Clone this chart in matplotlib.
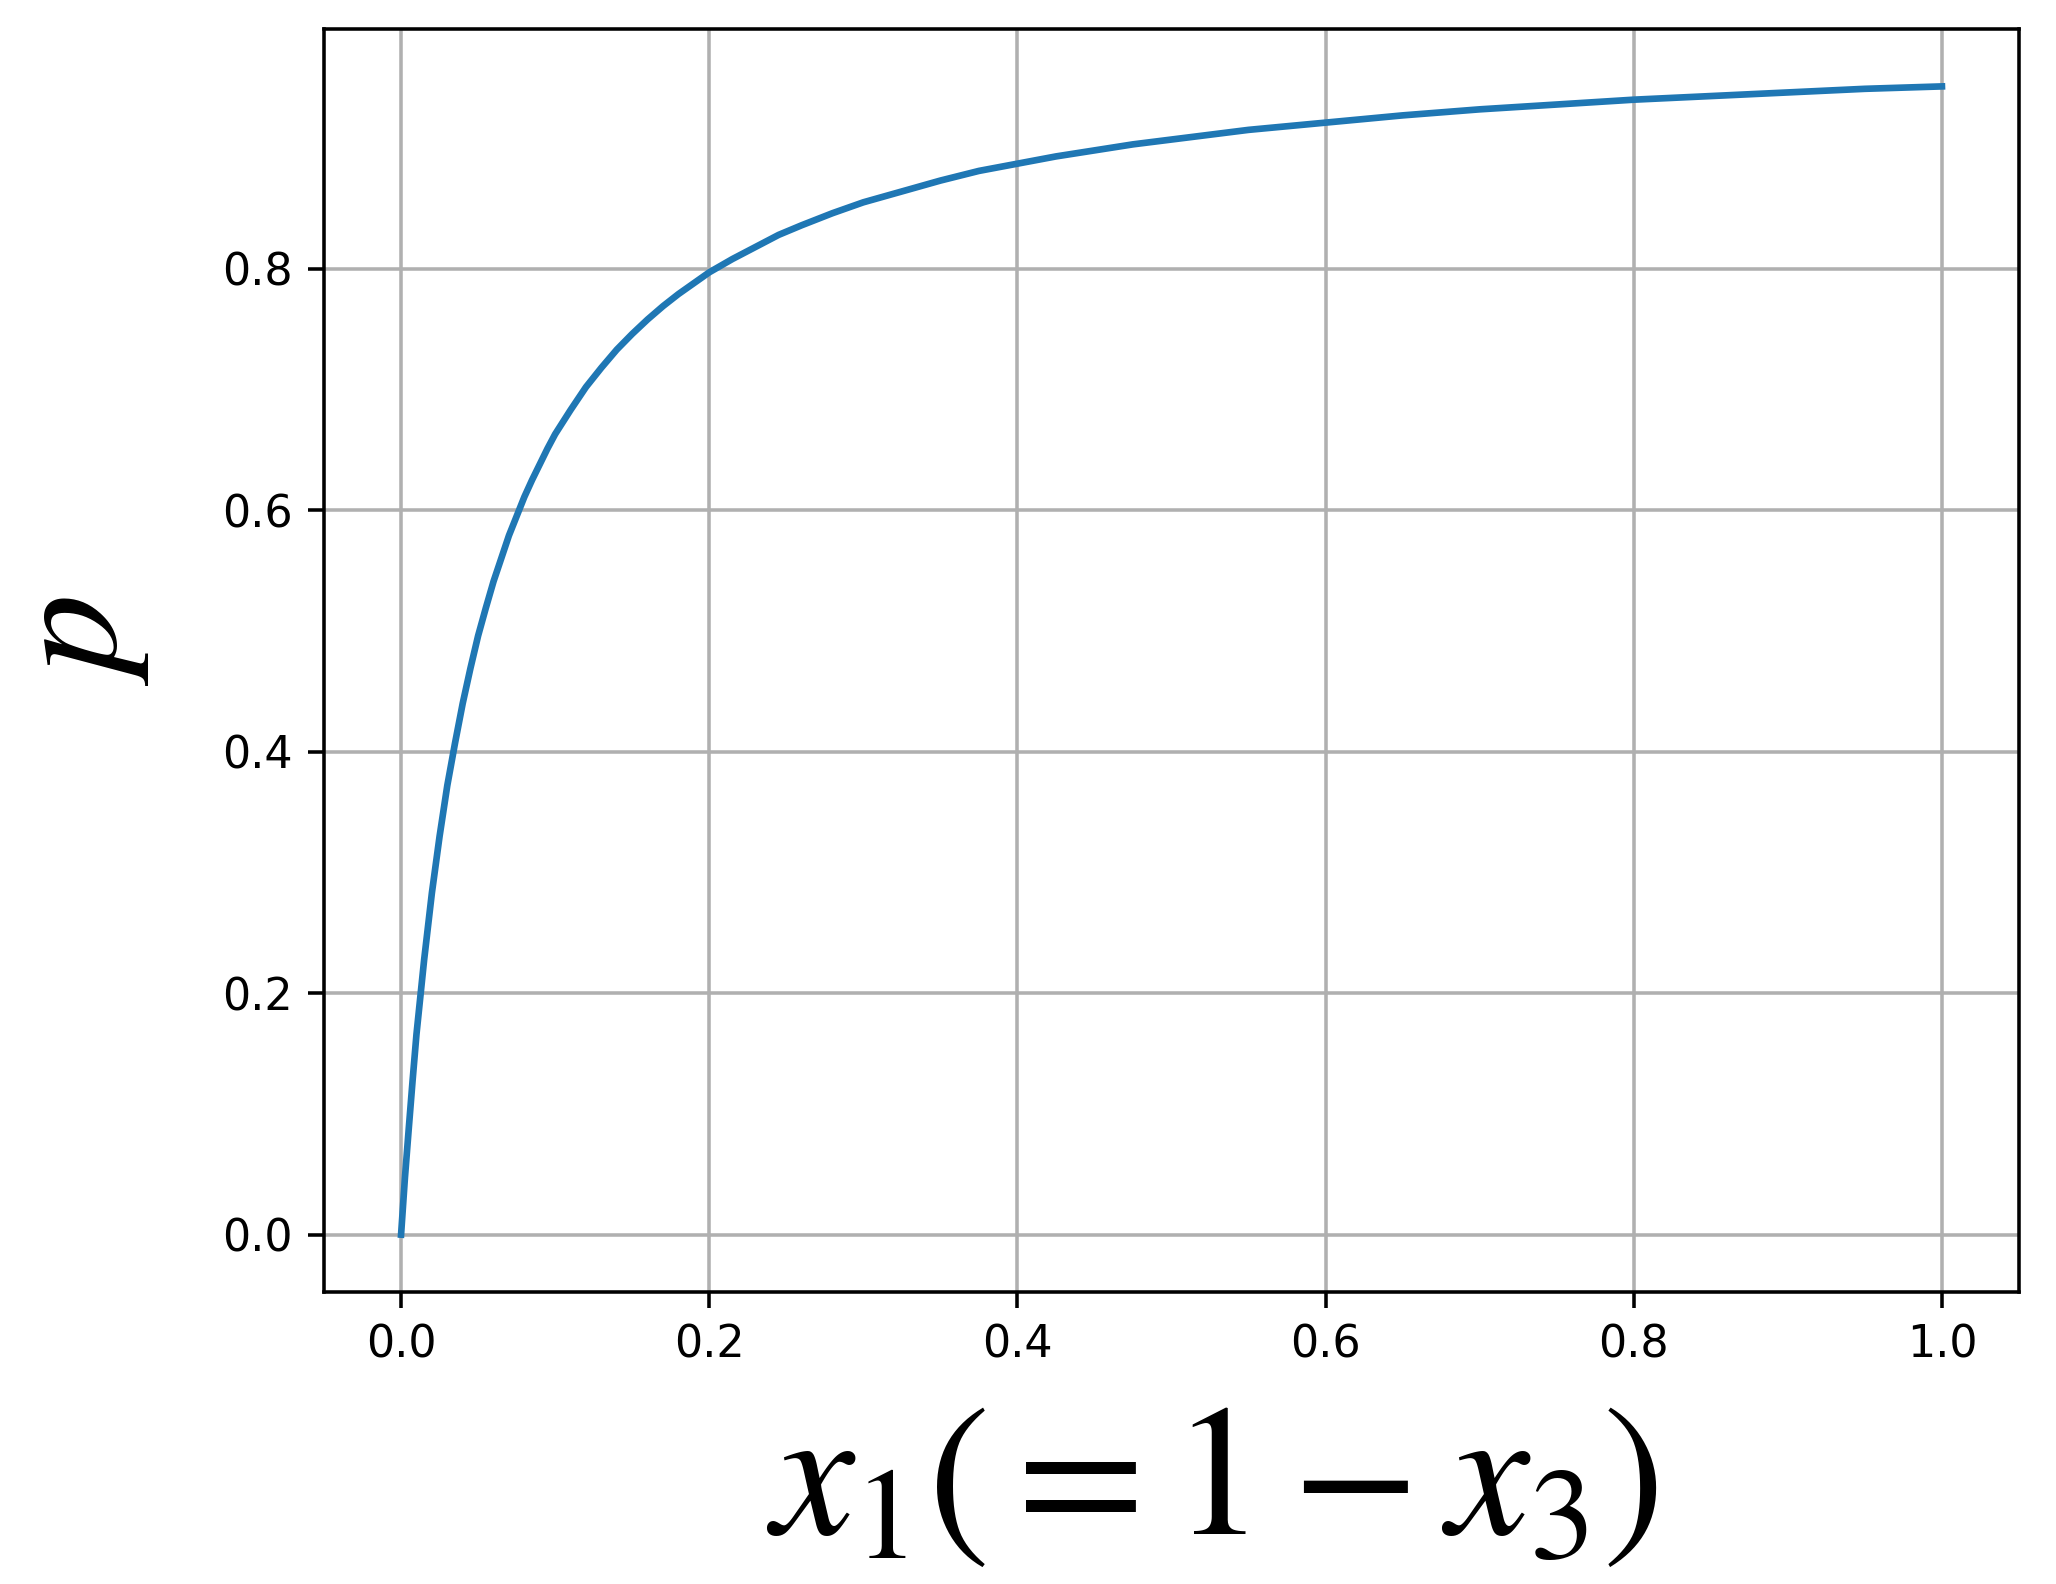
import matplotlib
matplotlib.use('Agg')
import matplotlib.pyplot as plt

# values
x1 = [0.0, 0.0025, 0.005, 0.0075, 0.01, 0.0125, 0.015, 0.02, 0.025, 0.03, 0.035,
      0.04, 0.045, 0.05, 0.055, 0.06, 0.065, 0.07, 0.075, 0.08, 0.085, 0.09, 0.095,
      0.10, 0.11, 0.12, 0.13, 0.14, 0.15, 0.16, 0.17, 0.18, 0.19, 0.20, 0.215,
      0.23, 0.245, 0.26, 0.28, 0.30, 0.325, 0.35, 0.375, 0.40, 0.425, 0.45, 0.475,
      0.50, 0.525, 0.55, 0.575, 0.60, 0.65, 0.70, 0.75, 0.80, 0.85, 0.90, 0.95, 1.00]
p = [0.0, 0.047, 0.088, 0.128, 0.166, 0.197, 0.228, 0.283, 0.33, 0.372, 0.407,
     0.44, 0.469, 0.496, 0.519, 0.541, 0.56, 0.579, 0.595, 0.611, 0.625, 0.638, 0.651,
     0.663, 0.683, 0.702, 0.718, 0.733, 0.746, 0.758, 0.769, 0.779, 0.788, 0.797, 0.808,
     0.818, 0.828, 0.836, 0.846, 0.855, 0.864, 0.873, 0.881, 0.887, 0.893, 0.898, 0.903,
     0.907, 0.911, 0.915, 0.918, 0.921, 0.927, 0.932, 0.936, 0.940, 0.943, 0.946, 0.949, 0.951]

plt.rcParams['mathtext.fontset'] = 'stix'

fig = plt.figure(figsize=(6.425, 4.95), dpi=320)
ax = fig.add_axes([0.1576, 0.1843, 0.8244, 0.7974])

ax.plot(x1, p, color='#1f77b4', lw=1.5)
ax.grid(True)
ax.set_xticks([0.0, 0.2, 0.4, 0.6, 0.8, 1.0])
ax.set_yticks([0.0, 0.2, 0.4, 0.6, 0.8])

ax.set_xlabel(r'$x_1(=1-x_3)$', fontsize=42)
ax.xaxis.set_label_coords(0.524, -0.079)
ax.set_ylabel(r'$p$', fontsize=36)
ax.yaxis.set_label_coords(-0.102, 0.515)

fig.savefig('out.png', dpi=320)
